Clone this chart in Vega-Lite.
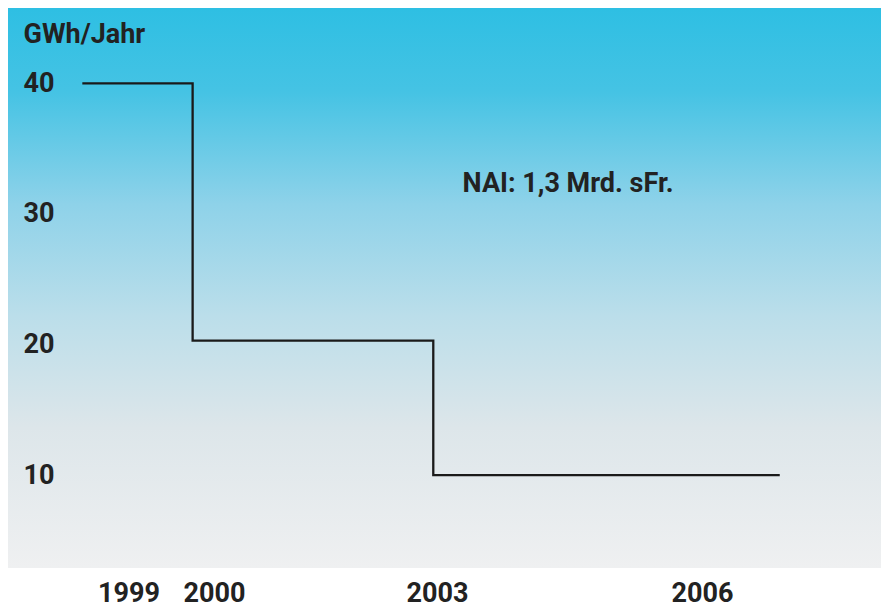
{
  "$schema": "https://vega.github.io/schema/vega-lite/v6.json",
  "width": 873,
  "height": 560,
  "autosize": {"type": "none"},
  "padding": {"left": 8, "top": 8, "right": 0, "bottom": 40},
  "background": "#ffffff",
  "config": {
    "view": {"stroke": null},
    "font": "Roboto"
  },
  "layer": [
    {
      "data": {"values": [{}]},
      "mark": {
        "type": "rect",
        "color": {
          "gradient": "linear",
          "x1": 0, "y1": 0, "x2": 0, "y2": 1,
          "stops": [
            {"offset": 0, "color": "#2ebfe3"},
            {"offset": 0.15, "color": "#45c3e4"},
            {"offset": 0.35, "color": "#8ed2e9"},
            {"offset": 0.55, "color": "#bbdeea"},
            {"offset": 0.75, "color": "#dde6ea"},
            {"offset": 1, "color": "#eff0f1"}
          ]
        }
      },
      "encoding": {}
    },
    {
      "data": {
        "values": [
          {"year": 1998.46, "gwh": 40},
          {"year": 1999.75, "gwh": 20.3},
          {"year": 2002.95, "gwh": 10},
          {"year": 2006.88, "gwh": 10}
        ]
      },
      "mark": {"type": "line", "interpolate": "step-after", "color": "#1a1a1a", "strokeWidth": 2.3},
      "encoding": {
        "x": {
          "field": "year",
          "type": "quantitative",
          "scale": {
            "domain": [1998, 1999, 2000, 2003, 2006, 2008],
            "range": [35, 120.5, 206, 429, 694, 870.7],
            "zero": false,
            "nice": false
          },
          "axis": {
            "values": [1999, 2000, 2003, 2006],
            "format": "d",
            "title": null,
            "domain": false,
            "ticks": false,
            "tickSize": 0,
            "grid": false,
            "zindex": 1,
            "labelPadding": 33,
            "labelBaseline": "alphabetic",
            "labelFont": "Roboto",
            "labelFontWeight": "bold",
            "labelFontSize": 27,
            "labelColor": "#222222",
            "labelFlush": false,
            "labelOverlap": false
          }
        },
        "y": {
          "field": "gwh",
          "type": "quantitative",
          "scale": {"domain": [2.88, 45.77], "zero": false, "nice": false},
          "axis": {
            "values": [10, 20, 30, 40],
            "title": "GWh/Jahr",
            "titleAngle": 0,
            "titleAlign": "left",
            "titleBaseline": "middle",
            "titleX": 0,
            "titleY": 26,
            "titleFont": "Roboto",
            "titleFontWeight": "bold",
            "titleFontSize": 27,
            "titleColor": "#222222",
            "offset": -15,
            "zindex": 1,
            "domain": false,
            "ticks": false,
            "tickSize": 0,
            "grid": false,
            "labelAlign": "left",
            "labelBaseline": "middle",
            "labelPadding": 0,
            "labelFont": "Roboto",
            "labelFontWeight": "bold",
            "labelFontSize": 27,
            "labelColor": "#222222"
          }
        }
      }
    },
    {
      "data": {"values": [{"label": "NAI: 1,3 Mrd. sFr."}]},
      "mark": {
        "type": "text",
        "align": "left",
        "baseline": "middle",
        "font": "Roboto",
        "fontWeight": "bold",
        "fontSize": 27,
        "color": "#222222"
      },
      "encoding": {
        "text": {"field": "label"},
        "x": {"datum": 2003.29, "type": "quantitative"},
        "y": {"datum": 32.29, "type": "quantitative"}
      }
    }
  ]
}
